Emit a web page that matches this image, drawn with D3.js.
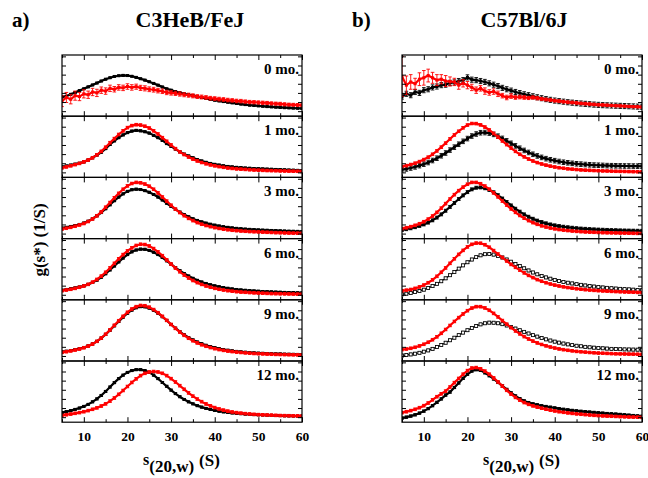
<!DOCTYPE html>
<html><head><meta charset="utf-8">
<script src="https://cdn.jsdelivr.net/npm/d3@7"></script>
<style>body{margin:0;background:#fff}svg{display:block}</style></head>
<body><svg id="c" width="648" height="478"></svg>
<script>
// ---------- DATA ----------
const sValues = [5,6,7,8,9,10,11,12,13,14,15,16,17,18,19,20,21,22,23,24,25,26,27,28,29,30,31,32,33,34,35,36,37,38,39,40,41,42,43,44,45,46,47,48,49,50,51,52,53,54,55,56,57,58,59,60];
const months = ["0 mo.","1 mo.","3 mo.","6 mo.","9 mo.","12 mo."];
const xTicks = [10,20,30,40,50,60];
const xMinorTicks = [5,15,25,35,45,55];
const yTicks = [0,1,2,3,4,5,6];

// Panel a) C3HeB/FeJ  (g(s*) in units of 0.01 1/S)
const aBlack0 = [1.55,1.64,1.85,2.05,2.25,2.45,2.66,2.87,3.08,3.3,3.5,3.66,3.8,3.88,3.92,3.9,3.82,3.7,3.55,3.4,3.22,3.04,2.85,2.65,2.45,2.3,2.15,2.02,1.9,1.8,1.7,1.6,1.5,1.4,1.3,1.2,1.12,1.05,0.98,0.91,0.85,0.78,0.72,0.66,0.62,0.58,0.54,0.5,0.47,0.44,0.41,0.38,0.36,0.34,0.32,0.3];
const aRed0 = [1.1,1.5,1.3,1.7,1.6,1.9,1.8,2.1,2.0,2.3,2.2,2.5,2.4,2.6,2.55,2.7,2.6,2.68,2.55,2.5,2.4,2.35,2.25,2.18,2.05,2.0,1.95,1.88,1.8,1.75,1.68,1.6,1.55,1.5,1.42,1.38,1.32,1.28,1.22,1.18,1.12,1.1,1.05,1.0,0.98,0.95,0.92,0.9,0.85,0.82,0.8,0.75,0.72,0.7,0.68,0.65];
const aBlack1 = [0.6,0.7,0.8,0.9,1.0,1.15,1.35,1.6,1.9,2.2,2.6,3.05,3.45,3.8,4.1,4.35,4.52,4.6,4.55,4.45,4.3,4.05,3.8,3.5,3.15,2.85,2.55,2.25,2.0,1.8,1.6,1.4,1.25,1.1,0.98,0.88,0.8,0.72,0.65,0.6,0.55,0.52,0.48,0.45,0.42,0.4,0.38,0.36,0.34,0.32,0.3,0.28,0.26,0.24,0.22,0.2];
const aRed1 = [0.5,0.6,0.72,0.85,0.98,1.15,1.35,1.6,1.92,2.3,2.75,3.25,3.7,4.15,4.55,4.9,5.12,5.22,5.18,5.05,4.85,4.55,4.2,3.8,3.4,3.0,2.6,2.25,1.95,1.68,1.45,1.25,1.08,0.94,0.82,0.72,0.63,0.55,0.48,0.43,0.38,0.35,0.32,0.29,0.26,0.24,0.22,0.2,0.19,0.18,0.16,0.15,0.14,0.13,0.12,0.1];
const aBlack3 = [0.6,0.68,0.78,0.88,1.0,1.15,1.35,1.62,1.95,2.3,2.72,3.15,3.6,4.0,4.35,4.62,4.8,4.86,4.82,4.7,4.52,4.28,4.0,3.68,3.32,2.98,2.65,2.35,2.08,1.84,1.62,1.44,1.28,1.14,1.02,0.92,0.83,0.75,0.68,0.62,0.57,0.53,0.49,0.46,0.43,0.4,0.38,0.36,0.34,0.32,0.3,0.28,0.26,0.25,0.24,0.22];
const aRed3 = [0.5,0.58,0.68,0.8,0.94,1.1,1.32,1.6,1.95,2.38,2.88,3.4,3.92,4.4,4.85,5.22,5.48,5.6,5.56,5.42,5.18,4.85,4.45,4.0,3.55,3.1,2.68,2.3,1.96,1.66,1.42,1.2,1.02,0.88,0.76,0.65,0.56,0.48,0.42,0.36,0.32,0.28,0.25,0.22,0.2,0.18,0.16,0.14,0.12,0.1,0.09,0.07,0.06,0.05,0.04,0.03];
const aBlack6 = [0.5,0.58,0.66,0.75,0.85,0.98,1.14,1.35,1.6,1.92,2.3,2.72,3.15,3.6,4.02,4.4,4.7,4.9,5.0,4.98,4.86,4.66,4.4,4.08,3.72,3.35,2.98,2.64,2.33,2.05,1.8,1.58,1.4,1.24,1.1,0.98,0.88,0.79,0.71,0.64,0.58,0.53,0.49,0.45,0.42,0.39,0.36,0.34,0.32,0.3,0.28,0.26,0.25,0.24,0.22,0.21];
const aRed6 = [0.45,0.52,0.6,0.7,0.82,0.96,1.14,1.38,1.68,2.04,2.46,2.94,3.44,3.94,4.4,4.8,5.14,5.4,5.53,5.5,5.34,5.06,4.7,4.28,3.82,3.36,2.92,2.52,2.16,1.84,1.56,1.33,1.13,0.96,0.82,0.7,0.6,0.52,0.45,0.39,0.34,0.3,0.27,0.24,0.21,0.19,0.17,0.15,0.13,0.12,0.11,0.1,0.09,0.08,0.07,0.06];
const aBlack9 = [0.45,0.52,0.6,0.7,0.8,0.93,1.1,1.32,1.6,1.95,2.36,2.82,3.3,3.78,4.25,4.68,5.02,5.28,5.4,5.38,5.24,5.0,4.68,4.3,3.88,3.45,3.04,2.66,2.32,2.02,1.76,1.53,1.34,1.17,1.03,0.91,0.8,0.71,0.63,0.56,0.5,0.45,0.41,0.37,0.34,0.31,0.29,0.27,0.25,0.23,0.22,0.2,0.19,0.18,0.17,0.16];
const aRed9 = [0.4,0.47,0.55,0.65,0.76,0.9,1.08,1.3,1.6,1.96,2.38,2.86,3.36,3.86,4.34,4.78,5.14,5.4,5.53,5.5,5.34,5.08,4.74,4.34,3.9,3.45,3.02,2.62,2.26,1.94,1.67,1.43,1.23,1.06,0.92,0.8,0.7,0.61,0.54,0.48,0.42,0.38,0.34,0.3,0.27,0.25,0.23,0.21,0.19,0.17,0.16,0.15,0.14,0.13,0.12,0.11];
const aBlack12 = [0.5,0.6,0.72,0.85,1.0,1.18,1.4,1.68,2.0,2.38,2.82,3.3,3.78,4.22,4.6,4.9,5.1,5.2,5.2,5.1,4.9,4.6,4.22,3.8,3.38,2.96,2.58,2.24,1.94,1.68,1.46,1.26,1.1,0.96,0.84,0.74,0.65,0.58,0.52,0.46,0.42,0.38,0.34,0.31,0.28,0.26,0.24,0.22,0.2,0.18,0.17,0.15,0.14,0.13,0.12,0.11];
const aRed12 = [0.2,0.27,0.34,0.42,0.5,0.6,0.72,0.86,1.02,1.22,1.46,1.76,2.1,2.5,2.92,3.36,3.8,4.2,4.55,4.8,4.95,5.0,4.95,4.8,4.55,4.22,3.85,3.45,3.05,2.66,2.3,1.98,1.7,1.45,1.24,1.05,0.9,0.77,0.66,0.57,0.5,0.44,0.39,0.35,0.31,0.28,0.26,0.24,0.22,0.2,0.18,0.17,0.16,0.15,0.14,0.13];

// Panel b) C57Bl/6J
const bBlack0 = [1.6,1.9,1.75,2.1,2.0,2.3,2.4,2.6,2.7,2.85,2.9,3.1,3.15,3.3,3.4,3.7,3.45,3.4,3.3,3.2,3.05,2.9,2.75,2.55,2.4,2.25,2.1,1.98,1.85,1.75,1.63,1.52,1.42,1.32,1.24,1.16,1.1,1.04,0.98,0.93,0.88,0.84,0.8,0.76,0.72,0.69,0.66,0.64,0.62,0.6,0.58,0.56,0.54,0.52,0.5,0.48];
const bRed0 = [3.8,2.85,3.2,3.0,3.5,3.65,3.9,3.65,3.4,3.5,3.3,3.25,3.2,2.85,3.05,2.85,2.6,2.3,2.5,2.2,2.05,2.15,1.9,1.7,1.5,1.65,1.5,1.55,1.5,1.45,1.5,1.42,1.35,1.28,1.22,1.15,1.1,1.04,0.98,0.95,0.9,0.85,0.82,0.78,0.74,0.7,0.68,0.65,0.62,0.6,0.58,0.55,0.52,0.5,0.48,0.45];
const bBlack1 = [0.3,0.38,0.48,0.6,0.74,0.9,1.08,1.3,1.55,1.82,2.12,2.44,2.76,3.08,3.4,3.7,3.98,4.2,4.34,4.36,4.3,4.16,3.96,3.72,3.45,3.18,2.9,2.64,2.4,2.18,1.98,1.8,1.64,1.5,1.38,1.28,1.19,1.11,1.05,0.99,0.94,0.9,0.86,0.83,0.8,0.78,0.76,0.74,0.73,0.72,0.71,0.7,0.7,0.69,0.68,0.67];
const bRed1 = [0.64,0.74,0.86,1.0,1.18,1.4,1.66,1.98,2.35,2.76,3.2,3.66,4.1,4.5,4.88,5.18,5.35,5.34,5.2,4.96,4.64,4.26,3.86,3.44,3.04,2.66,2.3,1.98,1.7,1.46,1.25,1.07,0.92,0.79,0.68,0.59,0.51,0.45,0.39,0.35,0.31,0.27,0.24,0.22,0.2,0.18,0.16,0.15,0.13,0.12,0.11,0.1,0.09,0.08,0.07,0.06];
const bBlack3 = [0.4,0.48,0.58,0.7,0.84,1.0,1.2,1.45,1.75,2.1,2.5,2.92,3.35,3.78,4.18,4.54,4.84,5.02,5.05,4.96,4.78,4.52,4.2,3.84,3.46,3.08,2.72,2.4,2.1,1.84,1.62,1.42,1.26,1.12,1.0,0.9,0.82,0.75,0.69,0.64,0.59,0.55,0.52,0.49,0.46,0.44,0.42,0.4,0.38,0.37,0.35,0.34,0.33,0.32,0.31,0.3];
const bRed3 = [0.55,0.64,0.76,0.9,1.08,1.3,1.58,1.92,2.32,2.78,3.28,3.78,4.26,4.7,5.08,5.4,5.6,5.6,5.46,5.2,4.86,4.46,4.02,3.56,3.12,2.7,2.32,1.98,1.68,1.42,1.2,1.01,0.85,0.72,0.61,0.52,0.44,0.38,0.33,0.28,0.24,0.21,0.18,0.16,0.14,0.12,0.1,0.09,0.08,0.07,0.06,0.05,0.04,0.03,0.02,0.01];
const bBlack6 = [0.05,0.12,0.2,0.3,0.42,0.56,0.74,0.95,1.2,1.48,1.8,2.14,2.5,2.86,3.22,3.56,3.86,4.12,4.32,4.44,4.46,4.4,4.26,4.08,3.86,3.62,3.38,3.14,2.9,2.66,2.44,2.24,2.06,1.9,1.76,1.63,1.51,1.41,1.32,1.24,1.16,1.09,1.02,0.96,0.9,0.85,0.8,0.76,0.72,0.68,0.65,0.62,0.59,0.56,0.53,0.5];
const bRed6 = [0.44,0.5,0.58,0.7,0.86,1.06,1.32,1.64,2.02,2.46,2.94,3.44,3.94,4.42,4.86,5.24,5.52,5.66,5.64,5.48,5.2,4.84,4.46,4.08,3.7,3.32,3.0,2.7,2.4,2.12,1.88,1.66,1.48,1.32,1.18,1.06,0.96,0.87,0.79,0.72,0.66,0.61,0.56,0.52,0.48,0.45,0.42,0.4,0.37,0.35,0.33,0.31,0.3,0.28,0.26,0.24];
const bBlack9 = [0.05,0.1,0.17,0.25,0.35,0.47,0.61,0.78,0.98,1.2,1.45,1.72,2.0,2.28,2.56,2.82,3.06,3.28,3.46,3.58,3.65,3.64,3.58,3.48,3.34,3.18,3.0,2.82,2.64,2.46,2.28,2.12,1.96,1.82,1.69,1.57,1.46,1.36,1.27,1.19,1.12,1.06,1.0,0.95,0.91,0.87,0.84,0.81,0.78,0.76,0.74,0.72,0.71,0.7,0.69,0.68];
const bRed9 = [0.7,0.76,0.84,0.95,1.1,1.28,1.5,1.78,2.1,2.48,2.9,3.34,3.78,4.2,4.6,4.96,5.24,5.4,5.4,5.26,5.0,4.66,4.28,3.88,3.48,3.1,2.74,2.42,2.12,1.86,1.63,1.43,1.26,1.11,0.98,0.87,0.77,0.69,0.62,0.56,0.5,0.46,0.42,0.38,0.35,0.32,0.3,0.28,0.26,0.24,0.23,0.22,0.21,0.2,0.19,0.18];
const bBlack12 = [-0.1,0.0,0.12,0.26,0.44,0.66,0.94,1.26,1.62,2.0,2.42,2.75,3.25,3.75,4.25,4.7,5.05,5.2,5.12,4.86,4.54,4.18,3.8,3.42,3.04,2.66,2.32,2.02,1.78,1.6,1.46,1.35,1.25,1.17,1.09,1.01,0.93,0.86,0.8,0.74,0.69,0.64,0.6,0.56,0.52,0.48,0.44,0.4,0.37,0.34,0.3,0.26,0.22,0.18,0.14,0.1];
const bRed12 = [0.5,0.6,0.72,0.86,1.04,1.26,1.55,1.9,2.24,2.56,2.85,3.3,3.78,4.24,4.7,5.1,5.38,5.43,5.3,5.04,4.7,4.3,3.86,3.4,2.94,2.52,2.16,1.86,1.6,1.4,1.24,1.1,0.98,0.87,0.77,0.68,0.6,0.53,0.47,0.41,0.36,0.32,0.28,0.24,0.2,0.17,0.14,0.12,0.1,0.08,0.06,0.04,0.02,0.01,0.0,-0.02];

// error bars (half-widths, same units)
const aRed0Err = [0.6,0.55,0.5,0.5,0.45,0.45,0.4,0.4,0.4,0.35,0.35,0.35,0.3,0.3,0.3,0.3,0.3,0.28,0.28,0.28,0.26,0.26,0.25,0.25,0.24,0.24,0.23,0.23,0.22,0.22,0.22,0.21,0.21,0.2,0.2,0.2,0.2,0.2,0.19,0.19,0.19,0.19,0.18,0.18,0.18,0.18,0.18,0.17,0.17,0.17,0.17,0.17,0.16,0.16,0.16,0.16];
const bRed0Err = [2.2,1.0,0.8,0.6,0.7,0.8,0.7,0.6,0.6,0.5,0.6,0.5,0.4,0.45,0.4,0.4,0.35,0.35,0.3,0.35,0.3,0.3,0.3,0.25,0.25,0.25,0.2,0.2,0.2,0.18,0.18,0.18,0.16,0.16,0.16,0.15,0.15,0.15,0.15,0.15,0.14,0.14,0.14,0.14,0.14,0.13,0.13,0.13,0.13,0.13,0.12,0.12,0.12,0.12,0.12,0.12];
const aBlackErr = [0.08,0.1,0.1,0.1,0.1,0.1];
const aRedErr = [null,0.14,0.14,0.14,0.14,0.14];
const bBlackErr = [0.28,0.25,0.16,0.14,0.14,0.12];
const bRedErr = [null,0.14,0.14,0.14,0.14,0.14];

// ---------- DRAWING ----------
const panels = [
  {left:62, tag:"a)", tagX:12, title:"C3HeB/FeJ", titleX:190,
   black:[aBlack0,aBlack1,aBlack3,aBlack6,aBlack9,aBlack12],
   red:[aRed0,aRed1,aRed3,aRed6,aRed9,aRed12],
   blackErr:aBlackErr, redErr:[aRed0Err,...aRedErr.slice(1)],
   open:[false,false,false,false,false,false], ylabel:true, xlabX:143},
  {left:402, tag:"b)", tagX:352, title:"C57Bl/6J", titleX:524,
   black:[bBlack0,bBlack1,bBlack3,bBlack6,bBlack9,bBlack12],
   red:[bRed0,bRed1,bRed3,bRed6,bRed9,bRed12],
   blackErr:bBlackErr, redErr:[bRed0Err,...bRedErr.slice(1)],
   open:[false,false,false,true,true,false], ylabel:false, xlabX:483}
];

const svg = d3.select("#c");
const W = 240, H = 61.2, TOP = 55;
const FONT = "'Liberation Serif','Times New Roman',serif";
const RED = "#ff0000";

panels.forEach((p, pi) => {
  const x = d3.scaleLinear().domain([5, 60]).range([p.left, p.left + W]);
  svg.append("text").attr("x", p.tagX).attr("y", 27).attr("font-family", FONT)
    .attr("font-weight", "bold").attr("font-size", 21).text(p.tag);
  svg.append("text").attr("x", p.titleX).attr("y", 27).attr("text-anchor", "middle")
    .attr("font-family", FONT).attr("font-weight", "bold").attr("font-size", 22).text(p.title);

  months.forEach((m, i) => {
    const y0 = TOP + i * H;
    const y = d3.scaleLinear().domain([-0.55, 6.15]).range([y0 + H, y0]);
    const clipId = `clip${pi}_${i}`;
    svg.append("clipPath").attr("id", clipId).append("rect")
      .attr("x", p.left).attr("y", y0).attr("width", W).attr("height", H);
    const g = svg.append("g").attr("clip-path", `url(#${clipId})`);

    const drawSeries = (vals, err, color, open) => {
      const pts = sValues.map((s, k) => ({s, v: vals[k], e: Array.isArray(err) ? err[k] : err}));
      g.append("path").datum(pts).attr("fill", "none").attr("stroke", color)
        .attr("stroke-width", open ? 1.2 : 2.2)
        .attr("d", d3.line().x(d => x(d.s)).y(d => y(d.v)));
      const eb = g.append("g").attr("stroke", color).attr("stroke-width", 0.9);
      pts.forEach(d => {
        const yt = y(d.v + d.e), yb = y(d.v - d.e), cx = x(d.s);
        eb.append("line").attr("x1", cx).attr("x2", cx).attr("y1", yt).attr("y2", yb);
        eb.append("line").attr("x1", cx - 1.8).attr("x2", cx + 1.8).attr("y1", yt).attr("y2", yt);
        eb.append("line").attr("x1", cx - 1.8).attr("x2", cx + 1.8).attr("y1", yb).attr("y2", yb);
      });
      g.append("g").selectAll("rect").data(pts).join("rect")
        .attr("x", d => x(d.s) - 1.5).attr("y", d => y(d.v) - 1.5)
        .attr("width", 3).attr("height", 3)
        .attr("fill", open ? "#fff" : color).attr("stroke", color).attr("stroke-width", open ? 0.8 : 0);
    };
    drawSeries(p.black[i], p.blackErr[i], "#000", p.open[i]);
    drawSeries(p.red[i], p.redErr[i], RED, false);

    // axes (ticks pointing inward)
    const isLast = i === months.length - 1;
    const mkX = (axisFn, yPos, ticks, size, labels) => {
      const a = svg.append("g").attr("transform", `translate(0,${yPos})`)
        .call(axisFn(x).tickValues(ticks).tickSize(-size).tickPadding(8.8)
          .tickFormat(labels ? d3.format("d") : ""));
      a.select(".domain").remove();
      a.selectAll("line").attr("stroke-width", 1);
      a.selectAll("text").attr("font-family", FONT).attr("font-weight", "bold")
        .attr("font-size", 13.5).attr("fill", "#000");
    };
    mkX(d3.axisTop, y0, xTicks, 5, false);
    mkX(d3.axisTop, y0, xMinorTicks, 3, false);
    mkX(d3.axisBottom, y0 + H, xTicks, 5, isLast);
    mkX(d3.axisBottom, y0 + H, xMinorTicks, 3, false);
    const mkY = (axisFn, xPos) => {
      const a = svg.append("g").attr("transform", `translate(${xPos},0)`)
        .call(axisFn(y).tickValues(yTicks).tickSize(-4).tickFormat(""));
      a.select(".domain").remove();
      a.selectAll("line").attr("stroke-width", 1);
    };
    mkY(d3.axisLeft, p.left);
    mkY(d3.axisRight, p.left + W);

    svg.append("rect").attr("x", p.left).attr("y", y0).attr("width", W).attr("height", H)
      .attr("fill", "none").attr("stroke", "#000").attr("stroke-width", 1.2);

    svg.append("text").attr("x", p.left + W - 3).attr("y", y0 + 19).attr("text-anchor", "end")
      .attr("font-family", FONT).attr("font-weight", "bold").attr("font-size", 15).text(m);
  });

  // x axis label  s(20,w) (S)
  const xl = svg.append("text").attr("x", p.xlabX).attr("font-family", FONT).attr("font-weight", "bold");
  xl.append("tspan").attr("y", 465).attr("font-size", 16).text("s");
  xl.append("tspan").attr("y", 472).attr("font-size", 17).text("(20,w)");
  xl.append("tspan").attr("y", 466).attr("font-size", 17).attr("dx", 5).text("(S)");

  if (p.ylabel) {
    svg.append("text").attr("transform", "translate(45,240) rotate(-90)")
      .attr("text-anchor", "middle").attr("font-family", FONT).attr("font-weight", "bold")
      .attr("font-size", 17).text("g(s*) (1/S)");
  }
});
</script>
</body></html>
